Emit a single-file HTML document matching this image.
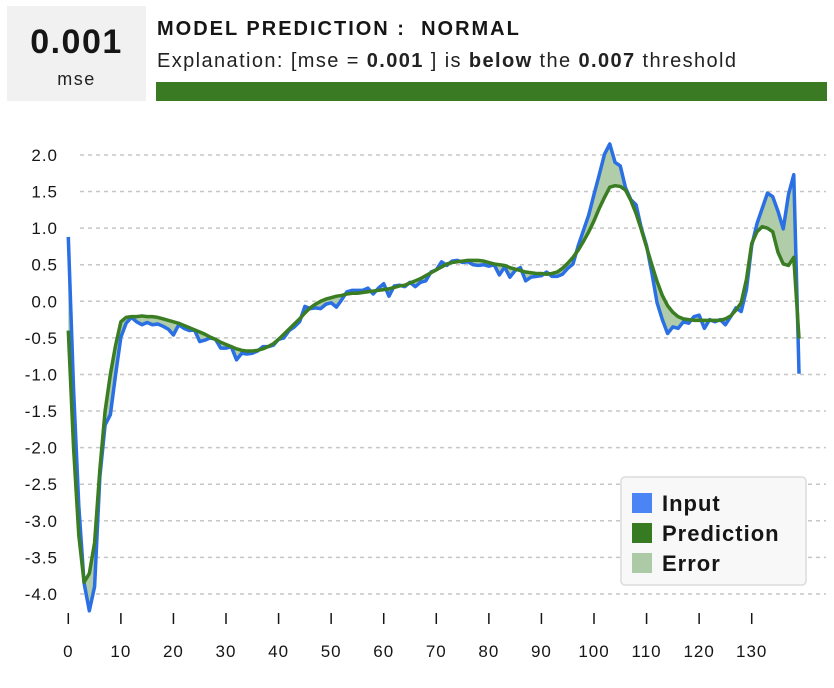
<!DOCTYPE html>
<html><head><meta charset="utf-8"><style>
body{margin:0;width:834px;height:688px;background:#fff;font-family:"Liberation Sans",sans-serif;position:relative;overflow:hidden}
#mse-box{position:absolute;left:7px;top:6px;width:139px;height:95px;background:#f1f1f1}
#mse-val{position:absolute;left:0;width:139px;top:17px;text-align:center;font-size:34px;font-weight:bold;color:#161616;letter-spacing:1.5px}
#mse-lbl{position:absolute;left:0;width:139px;top:63px;text-align:center;font-size:18px;color:#222;letter-spacing:1.5px}
#title{position:absolute;left:157px;top:18px;font-size:20px;font-weight:bold;color:#161616;white-space:pre;letter-spacing:2px}
#expl{position:absolute;left:157px;top:50px;font-size:20px;color:#222;white-space:pre;letter-spacing:1.4px}
#bar{position:absolute;left:156px;top:82px;width:671px;height:19px;background:#3a7a22}
svg{position:absolute;left:0;top:0}
</style></head><body>
<div id="mse-box">
<div id="mse-val">0.001</div>
<div id="mse-lbl">mse</div></div>
<div id="title">MODEL PREDICTION :  NORMAL</div>
<div id="expl">Explanation: [mse = <b>0.001</b> ] is <b>below</b> the <b>0.007</b> threshold</div>
<div id="bar"></div>
<svg id="chart" width="834" height="688"></svg>
<script>
const inputVals=[0.88,-1.2,-2.8,-3.85,-4.23,-3.9,-2.4,-1.69,-1.55,-1.0,-0.49,-0.3,-0.22,-0.28,-0.32,-0.29,-0.32,-0.31,-0.34,-0.38,-0.46,-0.32,-0.37,-0.4,-0.39,-0.55,-0.53,-0.5,-0.52,-0.64,-0.64,-0.62,-0.8,-0.71,-0.72,-0.71,-0.68,-0.62,-0.62,-0.6,-0.52,-0.5,-0.4,-0.35,-0.28,-0.07,-0.1,-0.09,-0.1,-0.04,-0.02,-0.08,0.02,0.13,0.15,0.15,0.15,0.18,0.1,0.18,0.24,0.07,0.21,0.22,0.2,0.26,0.2,0.26,0.28,0.4,0.43,0.54,0.49,0.55,0.56,0.53,0.54,0.5,0.49,0.5,0.48,0.5,0.36,0.47,0.33,0.42,0.46,0.28,0.33,0.34,0.35,0.4,0.34,0.34,0.37,0.45,0.51,0.76,0.97,1.18,1.46,1.73,2.01,2.15,1.9,1.85,1.55,1.39,1.32,1.0,0.76,0.39,-0.02,-0.25,-0.44,-0.35,-0.37,-0.28,-0.3,-0.21,-0.19,-0.37,-0.25,-0.28,-0.25,-0.32,-0.21,-0.09,-0.14,0.16,0.76,1.06,1.27,1.48,1.43,1.23,0.99,1.46,1.73,-0.99];
const predVals=[-0.4,-2.0,-3.2,-3.84,-3.72,-3.3,-2.3,-1.5,-1.0,-0.6,-0.28,-0.22,-0.21,-0.21,-0.2,-0.21,-0.21,-0.22,-0.24,-0.26,-0.28,-0.3,-0.33,-0.36,-0.39,-0.42,-0.45,-0.49,-0.52,-0.56,-0.59,-0.62,-0.65,-0.67,-0.68,-0.68,-0.67,-0.65,-0.62,-0.58,-0.52,-0.45,-0.38,-0.31,-0.24,-0.16,-0.09,-0.04,0.0,0.03,0.05,0.07,0.08,0.1,0.11,0.11,0.12,0.13,0.14,0.15,0.16,0.17,0.19,0.21,0.22,0.25,0.28,0.31,0.35,0.39,0.43,0.47,0.51,0.53,0.54,0.55,0.56,0.56,0.56,0.55,0.53,0.51,0.5,0.49,0.46,0.44,0.42,0.4,0.39,0.38,0.38,0.37,0.38,0.4,0.45,0.52,0.6,0.7,0.82,0.95,1.1,1.27,1.42,1.56,1.58,1.57,1.52,1.38,1.2,0.98,0.74,0.5,0.27,0.08,-0.06,-0.15,-0.21,-0.24,-0.25,-0.26,-0.26,-0.26,-0.26,-0.26,-0.26,-0.24,-0.2,-0.12,-0.02,0.3,0.79,0.95,1.02,1.0,0.95,0.67,0.51,0.49,0.6,-0.51];
const yTicks=[2.0,1.5,1.0,0.5,0.0,-0.5,-1.0,-1.5,-2.0,-2.5,-3.0,-3.5,-4.0];
const xTicks=[0,10,20,30,40,50,60,70,80,90,100,110,120,130];
const X=i=>68.3+i*5.257, Y=v=>301.3-v*73.17;
const svg=document.getElementById('chart'),NS='http://www.w3.org/2000/svg';
function mk(t,a,p){const e=document.createElementNS(NS,t);for(const k in a)e.setAttribute(k,a[k]);(p||svg).appendChild(e);return e;}
yTicks.forEach(v=>{
 const g=mk('line',{x1:80,x2:826,y1:Y(v),y2:Y(v),stroke:'#c6c6c6','stroke-width':1.5,'stroke-dasharray':'4,4'});
 
 
 const t=mk('text',{x:58,y:Y(v)+6,'text-anchor':'end','font-size':17,fill:'#161616','letter-spacing':1});t.textContent=v.toFixed(1);
 
 
});
xTicks.forEach(v=>{
 const l=mk('line',{x1:X(v),x2:X(v),y1:613,y2:624,stroke:'#161616','stroke-width':1.5});
 
 
 const t=mk('text',{x:X(v),y:657,'text-anchor':'middle','font-size':17,fill:'#161616','letter-spacing':1});t.textContent=v;
 
 
});
const ip=inputVals.map((v,i)=>X(i)+','+Y(v)), pp=predVals.map((v,i)=>X(i)+','+Y(v));
const area=mk('polygon',{points:ip.concat(pp.slice().reverse()).join(' '),fill:'#b0cca8'});


const il=mk('polyline',{points:ip.join(' '),fill:'none',stroke:'#2a6fe3','stroke-width':3.5,'stroke-linejoin':'round'});


const pl=mk('polyline',{points:pp.join(' '),fill:'none',stroke:'#3a7d22','stroke-width':3.5,'stroke-linejoin':'round'});


const lg=mk('g',{});


mk('rect',{x:621,y:477,width:185,height:108,rx:4,fill:'#f8f8f8',stroke:'#dcdcdc','stroke-width':1.5},lg);
[['Input','#4a84f5'],['Prediction','#367a22'],['Error','#adcaa6']].forEach((d,k)=>{
 const cy=503+k*30;
 const r=mk('rect',{x:632,y:cy-10,width:20,height:20,fill:d[1]},lg);
 
 
 const t=mk('text',{x:662,y:cy+8,'font-size':22,'font-weight':'bold',fill:'#161616','letter-spacing':1},lg);t.textContent=d[0];
 
 
});
</script>
</body></html>
